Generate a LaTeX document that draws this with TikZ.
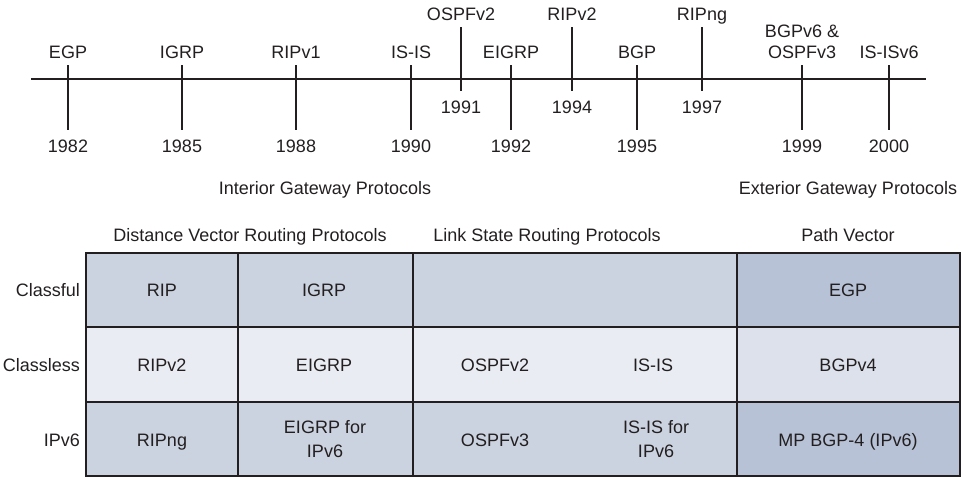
\documentclass[tikz,border=0pt]{standalone}
\usepackage{fontspec}
\setmainfont{Liberation Sans}
\definecolor{midc}{RGB}{203,210,224}
\definecolor{darkc}{RGB}{183,194,214}
\definecolor{lightc}{RGB}{233,236,243}
\definecolor{bgpc}{RGB}{220,225,235}
\definecolor{inkc}{RGB}{35,31,32}
\begin{document}
\begin{tikzpicture}[x=1pt,y=-1pt,
  txt/.style={font=\fontsize{18pt}{24pt}\selectfont, text=inkc, inner sep=0pt, outer sep=0pt},
  lbl/.style={txt, anchor=base},
  rowlbl/.style={txt, anchor=base east},
  twoline/.style={txt, align=center, anchor=center},
  tl/.style={draw=inkc, line width=2pt},
  grid/.style={draw=inkc, line width=1.5pt}]
\useasboundingbox (0,0) rectangle (969,477);

% timeline
\coordinate (tlL) at (31,79);
\coordinate (tlR) at (926,79);
\draw[tl] (tlL) -- (tlR);

% long ticks: x / label / year / name
\foreach \x/\lab/\yr/\nm in {68/EGP/1982/egp, 182/IGRP/1985/igrp, 296/RIPv1/1988/ripa, 411/IS-IS/1990/isis, 511/EIGRP/1992/eigrp, 637/BGP/1995/bgp, 889/IS-ISv6/2000/isisv}{
  \coordinate (\nm-t) at (\x,65);
  \coordinate (\nm-b) at (\x,130);
  \draw[tl] (\nm-t) -- (\nm-b);
  \node[lbl] (\nm-l) at (\x,58.5) {\lab};
  \node[lbl] (\nm-y) at (\x,152.5) {\yr};
}
% 1999 two-line label
\coordinate (bgpv-t) at (802,65);
\coordinate (bgpv-b) at (802,130);
\draw[tl] (bgpv-t) -- (bgpv-b);
\node[lbl] (bgpv-l1) at (802,37.5) {BGPv6 \&};
\node[lbl] (bgpv-l2) at (802,58.5) {OSPFv3};
\node[lbl] (bgpv-y) at (802,152.5) {1999};

% short high ticks
\foreach \x/\lab/\yr/\nm in {461/OSPFv2/1991/ospf, 572/RIPv2/1994/ripb, 702/RIPng/1997/ripng}{
  \coordinate (\nm-t) at (\x,27);
  \coordinate (\nm-b) at (\x,91);
  \draw[tl] (\nm-t) -- (\nm-b);
  \node[lbl] (\nm-l) at (\x,20.5) {\lab};
  \node[lbl] (\nm-y) at (\x,113.5) {\yr};
}

% headings
\node[lbl] (igp) at (325,194.5) {Interior Gateway Protocols};
\node[lbl] (egph) at (848,194.5) {Exterior Gateway Protocols};
\node[lbl] (dv) at (250,241) {Distance Vector Routing Protocols};
\node[lbl] (ls) at (547,241) {Link State Routing Protocols};
\node[lbl] (pv) at (848,241) {Path Vector};

% table cells
\path[grid, fill=midc] (86,253) rectangle (238,327);
\path[grid, fill=midc] (238,253) rectangle (413,327);
\path[grid, fill=midc] (413,253) rectangle (737,327);
\path[grid, fill=darkc] (737,253) rectangle (960,327);
\path[grid, fill=lightc] (86,327) rectangle (238,402);
\path[grid, fill=lightc] (238,327) rectangle (413,402);
\path[grid, fill=lightc] (413,327) rectangle (737,402);
\path[grid, fill=bgpc] (737,327) rectangle (960,402);
\path[grid, fill=midc] (86,402) rectangle (238,476);
\path[grid, fill=midc] (238,402) rectangle (413,476);
\path[grid, fill=midc] (413,402) rectangle (737,476);
\path[grid, fill=darkc] (737,402) rectangle (960,476);

% row labels
\node[rowlbl] (r1) at (80,296.5) {Classful};
\node[rowlbl] (r2) at (80,371.5) {Classless};
\node[rowlbl] (r3) at (80,446.5) {IPv6};

% cell texts
\node[lbl] (c11) at (162,296.5) {RIP};
\node[lbl] (c12) at (324,296.5) {IGRP};
\node[lbl] (c14) at (848,296.5) {EGP};
\node[lbl] (c21) at (162,371.5) {RIPv2};
\node[lbl] (c22) at (324,371.5) {EIGRP};
\node[lbl] (c23a) at (495,371.5) {OSPFv2};
\node[lbl] (c23b) at (653,371.5) {IS-IS};
\node[lbl] (c24) at (848,371.5) {BGPv4};
\node[lbl] (c31) at (162,446.5) {RIPng};
\node[twoline] (c32) at (325,439.5) {EIGRP for\\IPv6};
\node[lbl] (c33a) at (495,446.5) {OSPFv3};
\node[twoline] (c33b) at (656,439.5) {IS-IS for\\IPv6};
\node[lbl] (c34) at (848,446.5) {MP BGP-4 (IPv6)};
\end{tikzpicture}
\end{document}
